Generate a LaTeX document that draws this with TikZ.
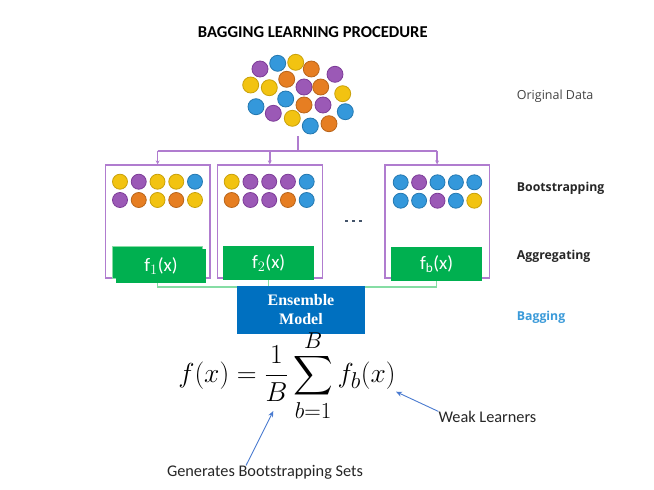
\documentclass[tikz,border=0pt]{standalone}
\usepackage{fontspec}
\usepackage{amsmath}
\usepackage{graphicx}
\setmainfont{Carlito}
\newfontfamily\labelfont{Open Sans}
\newfontfamily\serifbold{Liberation Serif}
\usetikzlibrary{arrows.meta}

\definecolor{cyel}{HTML}{F2C311}
\definecolor{cyelE}{HTML}{C9A10A}
\definecolor{cpur}{HTML}{9B59B6}
\definecolor{cpurE}{HTML}{7D3C98}
\definecolor{cblu}{HTML}{3498DB}
\definecolor{cbluE}{HTML}{2478B0}
\definecolor{cora}{HTML}{E67E22}
\definecolor{coraE}{HTML}{B9651A}
\definecolor{lavline}{HTML}{B07CCF}
\definecolor{offgreen}{HTML}{00B050}
\definecolor{palegreen}{HTML}{86DDA4}
\definecolor{ensblue}{HTML}{0070C0}
\definecolor{arrblue}{HTML}{4A7BD0}
\definecolor{baggblue}{HTML}{3A9AD9}
\definecolor{labgray}{HTML}{444444}
\definecolor{dotgray}{HTML}{44546A}

\tikzset{
  dat/.style={circle, inner sep=0pt, minimum size=#1, line width=0.8pt},
  Y/.style={fill=cyel, draw=cyelE},
  P/.style={fill=cpur, draw=cpurE},
  U/.style={fill=cblu, draw=cbluE},
  O/.style={fill=cora, draw=coraE},
  bagbox/.style={draw=lavline, line width=1.6pt, minimum width=#1, minimum height=113pt, inner sep=0pt},
  learner/.style={fill=offgreen, text=white, inner sep=0pt, minimum height=34pt,
    font=\fontsize{19}{22}\selectfont},
  lavconn/.style={draw=lavline, line width=1.6pt},
  lavarrow/.style={lavconn, -{Stealth[length=4pt,width=4pt]}},
  greenconn/.style={draw=palegreen, line width=1.5pt},
  sidelabel/.style={anchor=west, inner sep=0pt, font=\labelfont\fontsize{12.5}{15}\selectfont},
  stagelabel/.style={anchor=west, inner sep=0pt, font=\labelfont\bfseries\fontsize{12.3}{15}\selectfont},
  note/.style={inner sep=0pt, text=black!85, font=\fontsize{16.3}{19}\selectfont},
  pointer/.style={draw=arrblue, line width=0.9pt, -{Stealth[length=6pt,width=5pt]}},
}

\begin{document}
\begin{tikzpicture}[x=1pt, y=-1pt]
\useasboundingbox (0,0) rectangle (654,490);
\fill[white] (0,0) rectangle (654,490);

% title
\node[font=\bfseries\fontsize{16.6}{19}\selectfont] (title) at (312.8,31.7) {BAGGING LEARNING PROCEDURE};

% original data cloud
\foreach \x/\y/\c [count=\i] in {
  260/69/P, 277.7/63.3/U, 295.7/62.3/Y, 311.3/69/O, 335/74.3/P,
  250.7/85/Y, 269.3/87.7/Y, 286.7/79.3/O, 304/87/P, 320.7/87/O, 342.7/93.7/Y,
  256/106.7/U, 285.7/99/U, 304/105/O, 323/105/P, 345.3/111.7/U,
  273.3/113.3/P, 292.3/118.3/Y, 310.3/126/U, 329/123.7/O}
  \node[dat=16pt, \c] (d\i) at (\x,\y) {};

% bootstrap sample boxes
\node[bagbox=104.7pt] (box1) at (157.65,221.65) {};
\node[bagbox=105pt]   (box2) at (269.8,221.65) {};
\node[bagbox=104.3pt] (box3) at (437.15,221.65) {};

% samples drawn into each box
\foreach \y/\row [count=\r] in {181.7/{Y,P,Y,Y,U}, 200/{P,O,Y,O,Y}}
  \foreach \c [count=\k] in \row
    \node[dat=15pt, \c] (a\r\k) at ({120+18.75*(\k-1)},\y) {};
\foreach \y/\row [count=\r] in {181.7/{Y,P,P,P,U}, 200/{O,P,P,O,U}}
  \foreach \c [count=\k] in \row
    \node[dat=15pt, \c] (b\r\k) at ({231.7+18.75*(\k-1)},\y) {};
\foreach \y/\row [count=\r] in {182.3/{U,P,U,U,U}, 200.7/{U,U,P,U,Y}}
  \foreach \c [count=\k] in \row
    \node[dat=15pt, \c] (c\r\k) at ({400.7+18.4*(\k-1)},\y) {};

% ellipsis between the boxes
\foreach \x [count=\i] in {346.7,353.7,360.3}
  \node[fill=dotgray, inner sep=0pt, minimum size=2.6pt] (dot\i) at (\x,221) {};

% split of the original data into the boxes
\coordinate (dataout) at (297.7,136);
\coordinate (split) at (297.7,150.7);
\draw[lavconn] (dataout) -- (split);
\draw[lavconn] (split -| box1.north) -- (split -| box3.north);
\foreach \b in {box1,box2,box3}
  \draw[lavarrow] (split -| \b.north) -- (\b.north);

% weak learners
\node[fill=offgreen, draw=palegreen, line width=1pt, minimum width=90.4pt, minimum height=32pt, inner sep=0pt] (f1back) at (157.5,262.7) {};
\node[learner, minimum width=90pt, minimum height=34pt] (f1) at (161,266.2) {f$_1$(x)};
\node[learner, minimum width=90.7pt] (f2) at (268.7,263) {f$_2$(x)};
\node[learner, minimum width=91.3pt] (fb) at (436.6,264.2) {f$_\mathrm{b}$(x)};

% aggregation into the ensemble
\coordinate (merge) at (270,287);
\draw[greenconn] (f1back.south |- f1.south) -- (f1back.south |- merge) -- (fb.south |- merge) -- (fb.south);
\draw[greenconn] (f2.south) -- (f2.south |- merge);

\node[fill=ensblue, text=white, minimum width=127.4pt, minimum height=48pt, inner sep=0pt, align=center,
  font=\serifbold\bfseries\fontsize{16}{18.5}\selectfont] (ens) at (301,309.7) {Ensemble\\Model};

% stage labels
\node[sidelabel, text=labgray] (lorig) at (516.7,96.7) {Original Data};
\node[stagelabel, text=black!85] (lboot) at (516.7,188.3) {Bootstrapping};
\node[stagelabel, text=black!85] (lagg) at (516.7,256.7) {Aggregating};
\node[stagelabel, text=baggblue] (lbag) at (516.7,317.3) {Bagging};

% bagging estimator
\node[inner sep=0pt, anchor=base, font=\fontsize{24.88}{30}\selectfont] (formula) at (287,382.5)
  {\scalebox{1.104}{$\displaystyle f(x) = \frac{1}{B}\sum_{b=1}^{B} f_b(x)$}};

\node[note, anchor=west] (weak) at (438.3,417.3) {Weak Learners};
\node[note] (gen) at (265,472.7) {Generates Bootstrapping Sets};

\coordinate (fbend) at (396,391.7);
\coordinate (frac) at (273.3,411);
\draw[pointer] (weak.north west) -- (fbend);
\draw[pointer] ([xshift=-19pt]gen.north) -- (frac);
\end{tikzpicture}
\end{document}
